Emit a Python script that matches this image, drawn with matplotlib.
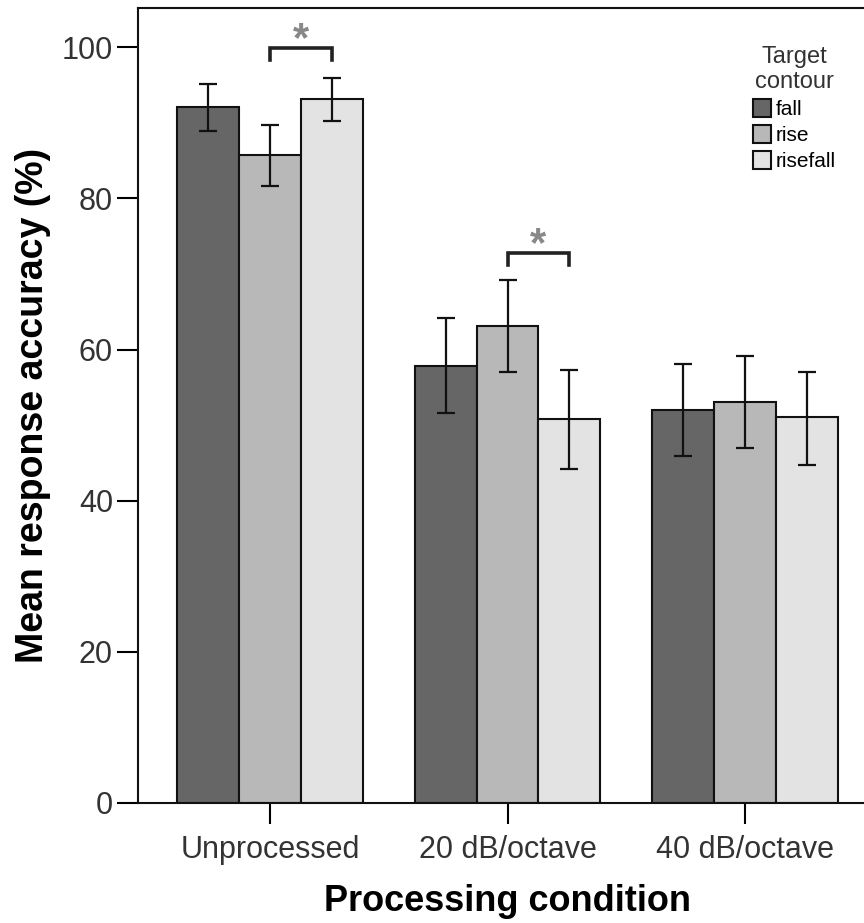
import numpy as np
import matplotlib
matplotlib.use("Agg")
import matplotlib.pyplot as plt

plt.rcParams['font.family'] = ['Liberation Sans', 'DejaVu Sans']

conditions = ['Unprocessed', '20 dB/octave', '40 dB/octave']
contours = ['fall', 'rise', 'risefall']
colors = ['#666666', '#b8b8b8', '#e3e3e3']

means = {
    'fall':     [92.1, 57.8, 52.0],
    'rise':     [85.7, 63.1, 53.0],
    'risefall': [93.1, 50.8, 51.1],
}
err_low = {
    'fall':     [88.9, 51.6, 45.9],
    'rise':     [81.6, 57.0, 47.0],
    'risefall': [90.3, 44.2, 44.7],
}
err_high = {
    'fall':     [95.2, 64.2, 58.1],
    'rise':     [89.7, 69.2, 59.1],
    'risefall': [96.0, 57.3, 57.0],
}

# significance brackets: (condition index, contour a, contour b, height)
sig_pairs = [(0, 'rise', 'risefall', 99.9), (1, 'rise', 'risefall', 72.8)]

fig = plt.figure(figsize=(8.64, 9.23), dpi=100)
ax = fig.add_axes([138 / 864, 1 - 803 / 923, (877 - 138) / 864, (803 - 8) / 923])

width = 0.261
x = np.arange(len(conditions))
offsets = {c: (i - 1) * width for i, c in enumerate(contours)}

for c, col in zip(contours, colors):
    m = np.array(means[c])
    lo = m - np.array(err_low[c])
    hi = np.array(err_high[c]) - m
    ax.bar(x + offsets[c], m, width, color=col, edgecolor='#111111',
           linewidth=1.5, label=c, zorder=2)
    ax.errorbar(x + offsets[c], m, yerr=[lo, hi], fmt='none', ecolor='#111111',
                elinewidth=1.6, capsize=6.5, capthick=1.6, zorder=3)

for ci, a, b, h in sig_pairs:
    xa = x[ci] + offsets[a]
    xb = x[ci] + offsets[b]
    ax.plot([xa, xa, xb, xb], [h - 1.6, h, h, h - 1.6], color='#222222',
            lw=2.6, solid_joinstyle='miter', zorder=4)
    ax.text((xa + xb) / 2, h - 0.4, '*', ha='center', va='baseline',
            fontsize=30, fontweight='bold', color='#888888')

ax.set_xlim(-0.556, 2.556)
ax.set_ylim(0, 105.2)
ax.set_yticks([0, 20, 40, 60, 80, 100])
ax.set_xticks(x)
ax.set_xticklabels(conditions)
ax.tick_params(axis='both', direction='out', length=15, width=1.5,
               labelsize=22, labelcolor='#333333', pad=3)
ax.tick_params(axis='x', pad=8)
for s in ax.spines.values():
    s.set_linewidth(1.5)
    s.set_color('#111111')

ax.set_ylabel('Mean response accuracy (%)', fontsize=27, fontweight='bold',
              labelpad=8)
ax.set_xlabel('Processing condition', fontsize=26, fontweight='bold',
              labelpad=14)

leg = ax.legend(loc='upper left', bbox_to_anchor=(738 / 864, 1 - 31 / 923),
                bbox_transform=fig.transFigure, frameon=False,
                title='Target\ncontour', fontsize=15, title_fontsize=17,
                handlelength=0.9, handleheight=0.9, handletextpad=0.2,
                labelspacing=0.3, borderpad=0.2)
leg.get_title().set_multialignment('center')
leg.get_title().set_color('#333333')
for p in leg.get_patches():
    p.set_linewidth(1.5)

fig.savefig('out.png', dpi=100)
